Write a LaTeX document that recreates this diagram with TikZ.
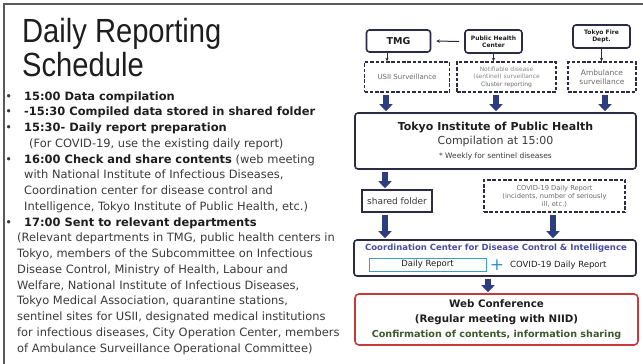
\documentclass[tikz,border=0pt]{standalone}
\usepackage{fontspec}
\setmainfont{DejaVu Sans}
\newfontfamily\titlefont{Liberation Sans}
\usepackage{graphicx}
\usetikzlibrary{arrows.meta}
\definecolor{framec}{HTML}{5A5A5A}
\definecolor{boxc}{HTML}{2B2B45}
\definecolor{arrc}{HTML}{2E3D80}
\definecolor{redc}{HTML}{C8393A}
\definecolor{coordc}{HTML}{4A4FA0}
\definecolor{cyanc}{HTML}{3AA0C8}
\definecolor{plusc}{HTML}{3A8FC8}
\definecolor{greenc}{HTML}{3D5A2E}
\definecolor{txtc}{HTML}{3A3A3A}
\definecolor{boldc}{HTML}{1E1E1E}
\definecolor{grayt}{HTML}{6A6A6A}
\begin{document}
\begin{tikzpicture}[x=1pt,y=-1pt,
  line/.style={anchor=base west, inner sep=0pt, text=txtc, font=\fontsize{11.45}{13}\selectfont},
  solidbox/.style={draw=boxc, line width=1.6pt, rounded corners=3pt, inner sep=0pt, align=center, text=boldc},
  dashbox/.style={draw=boxc, line width=1.6pt, dash pattern=on 3.5pt off 1.8pt, inner sep=0pt, align=center},
  bigarrow/.style={draw=arrc, line width=5.5pt, -{Triangle[width=13pt,length=7pt]}},
  thinarrow/.style={draw=boxc, line width=1pt, -{Stealth[length=3.5pt,width=3.5pt]}}
]
\useasboundingbox (0,0) rectangle (643,364);
\fill[white] (0,0) rectangle (643,364);
\draw[framec, line width=1.2pt] (4,364) -- (4,4) -- (643,4);

% title
\node[anchor=base west, inner sep=0pt, text=boldc] (t1) at (22,42) {\scalebox{0.87}[1]{\titlefont\fontsize{33.5}{36}\selectfont Daily Reporting}};
\node[anchor=base west, inner sep=0pt, text=boldc] (t2) at (22,76) {\scalebox{0.87}[1]{\titlefont\fontsize{33.5}{36}\selectfont Schedule}};

% schedule
\newcommand{\bul}{\llap{\textbullet\hspace{12pt}}}
\node[line] (l1) at (24,100) {\bul\textbf{\color{boldc}15:00 Data compilation}};
\node[line] (l2) at (24,115.75) {\bul\textbf{\color{boldc}-15:30 Compiled data stored in shared folder}};
\node[line] (l3) at (24,131.5) {\bul\textbf{\color{boldc}15:30- Daily report preparation}};
\node[line] (l4) at (29,147.25) {(For COVID-19, use the existing daily report)};
\node[line] (l5) at (24,163) {\bul\textbf{\color{boldc}16:00 Check and share contents} (web meeting};
\node[line] (l6) at (24,178.75) {with National Institute of Infectious Diseases,};
\node[line] (l7) at (24,194.5) {Coordination center for disease control and};
\node[line] (l8) at (24,210.25) {Intelligence, Tokyo Institute of Public Health, etc.)};
\node[line] (l9) at (24,226) {\bul\textbf{\color{boldc}17:00 Sent to relevant departments}};
\node[line] (l10) at (17,241.75) {(Relevant departments in TMG, public health centers in};
\node[line] (l11) at (17,257.5) {Tokyo, members of the Subcommittee on Infectious};
\node[line] (l12) at (17,273.25) {Disease Control, Ministry of Health, Labour and};
\node[line] (l13) at (17,289) {Welfare, National Institute of Infectious Diseases,};
\node[line] (l14) at (17,304.75) {Tokyo Medical Association, quarantine stations,};
\node[line] (l15) at (17,320.5) {sentinel sites for USII, designated medical institutions};
\node[line] (l16) at (17,336.25) {for infectious diseases, City Operation Center, members};
\node[line] (l17) at (17,352) {of Ambulance Surveillance Operational Committee)};

% right diagram: top row
\node[solidbox, minimum width=64pt, minimum height=22pt, font=\bfseries\fontsize{9.5}{11}\selectfont] (tmg) at (398.5,41) {TMG};
\node[solidbox, minimum width=57pt, minimum height=23pt, font=\bfseries\fontsize{6}{7}\selectfont] (phc) at (493.5,41.5) {Public Health\\Center};
\node[solidbox, minimum width=57pt, minimum height=23pt, font=\bfseries\fontsize{6}{7}\selectfont] (fire) at (601.5,36.5) {Tokyo Fire\\Dept.};

\node[dashbox, minimum width=85pt, minimum height=30pt, text=grayt, font=\fontsize{7}{8.5}\selectfont] (usii) at (407,77) {USII Surveillance};
\node[dashbox, minimum width=99pt, minimum height=30pt, text=grayt!80, font=\fontsize{6}{7.6}\selectfont] (notif) at (506.5,77) {Notifiable disease\\(sentinel) surveillance\\{\color{grayt}Cluster reporting}};
\node[dashbox, minimum width=68pt, minimum height=30pt, text=grayt, font=\fontsize{7.5}{9.5}\selectfont] (amb) at (602,77) {Ambulance\\surveillance};

\draw[thinarrow, shorten <=5pt, shorten >=5pt] (phc.west) -- (tmg.east);
\draw[thinarrow] (tmg.south -| 387,0) -- (usii.north -| 387,0);
\draw[thinarrow] (phc.south) -- (phc.south |- notif.north);
\draw[thinarrow] (fire.south) -- (fire.south |- amb.north);

% TIPH
\node[solidbox, minimum width=281pt, minimum height=56pt, font=\fontsize{11}{14}\selectfont] (tiph) at (495.5,141) {{\bfseries Tokyo Institute of Public Health}\\{\color{txtc}Compilation at 15:00}\\{\color{txtc}\fontsize{7.5}{9}\selectfont * Weekly for sentinel diseases}};

\draw[bigarrow, shorten <=2pt, shorten >=1pt] (usii.south -| 386,0) -- (tiph.north -| 386,0);
\draw[bigarrow, shorten <=2pt, shorten >=1pt] (notif.south -| 496,0) -- (tiph.north -| 496,0);
\draw[bigarrow, shorten <=2pt, shorten >=1pt] (amb.south -| 605,0) -- (tiph.north -| 605,0);

% shared folder & COVID
\node[solidbox, rounded corners=0pt, minimum width=70pt, minimum height=22pt, text=txtc, font=\fontsize{9}{10}\selectfont] (shared) at (397,201) {shared folder};
\node[dashbox, minimum width=141pt, minimum height=32pt, text=grayt, font=\fontsize{6.7}{8}\selectfont] (covid) at (554.5,196) {COVID-19 Daily Report\\(incidents, number of seriously\\ill, etc.)};

\draw[bigarrow, shorten <=2pt, shorten >=1pt] (tiph.south -| 385,0) -- (shared.north -| 385,0);

% coordination
\node[solidbox, minimum width=282pt, minimum height=36pt] (coord) at (495,258) {};
\node[inner sep=0pt, text=coordc, font=\bfseries\fontsize{8.5}{9}\selectfont] (ctitle) at (496,248.5) {Coordination Center for Disease Control \& Intelligence};
\node[draw=cyanc, line width=1pt, minimum width=117pt, minimum height=13pt, inner sep=0pt, text=boldc, font=\fontsize{8.5}{9}\selectfont] (drep) at (427.5,264.5) {Daily Report};
\node[inner sep=0pt, text=plusc, font=\fontsize{17}{17}\selectfont] (plus) at (497,265) {+};
\node[anchor=west, inner sep=0pt, text=boldc, font=\fontsize{8.5}{9}\selectfont] (ctxt) at (510,265) {COVID-19 Daily Report};

\draw[bigarrow, shorten <=2pt, shorten >=1pt] (shared.south -| 385,0) -- (coord.north -| 385,0);
\draw[bigarrow, shorten <=2pt, shorten >=1pt] (covid.south -| 553,0) -- (coord.north -| 553,0);

% web conference
\node[draw=redc, line width=1.6pt, rounded corners=4pt, minimum width=283pt, minimum height=51pt, inner sep=0pt, align=center, font=\bfseries\fontsize{10.3}{15}\selectfont] (web) at (496.5,319.5) {{\color{boldc}Web Conference}\\{\color{boldc}(Regular meeting with NIID)}\\{\color{greenc}\fontsize{9.6}{15}\selectfont Confirmation of contents, information sharing}};

\draw[bigarrow, shorten <=2pt, shorten >=1pt] (coord.south -| 488,0) -- (web.north -| 488,0);
\end{tikzpicture}
\end{document}
